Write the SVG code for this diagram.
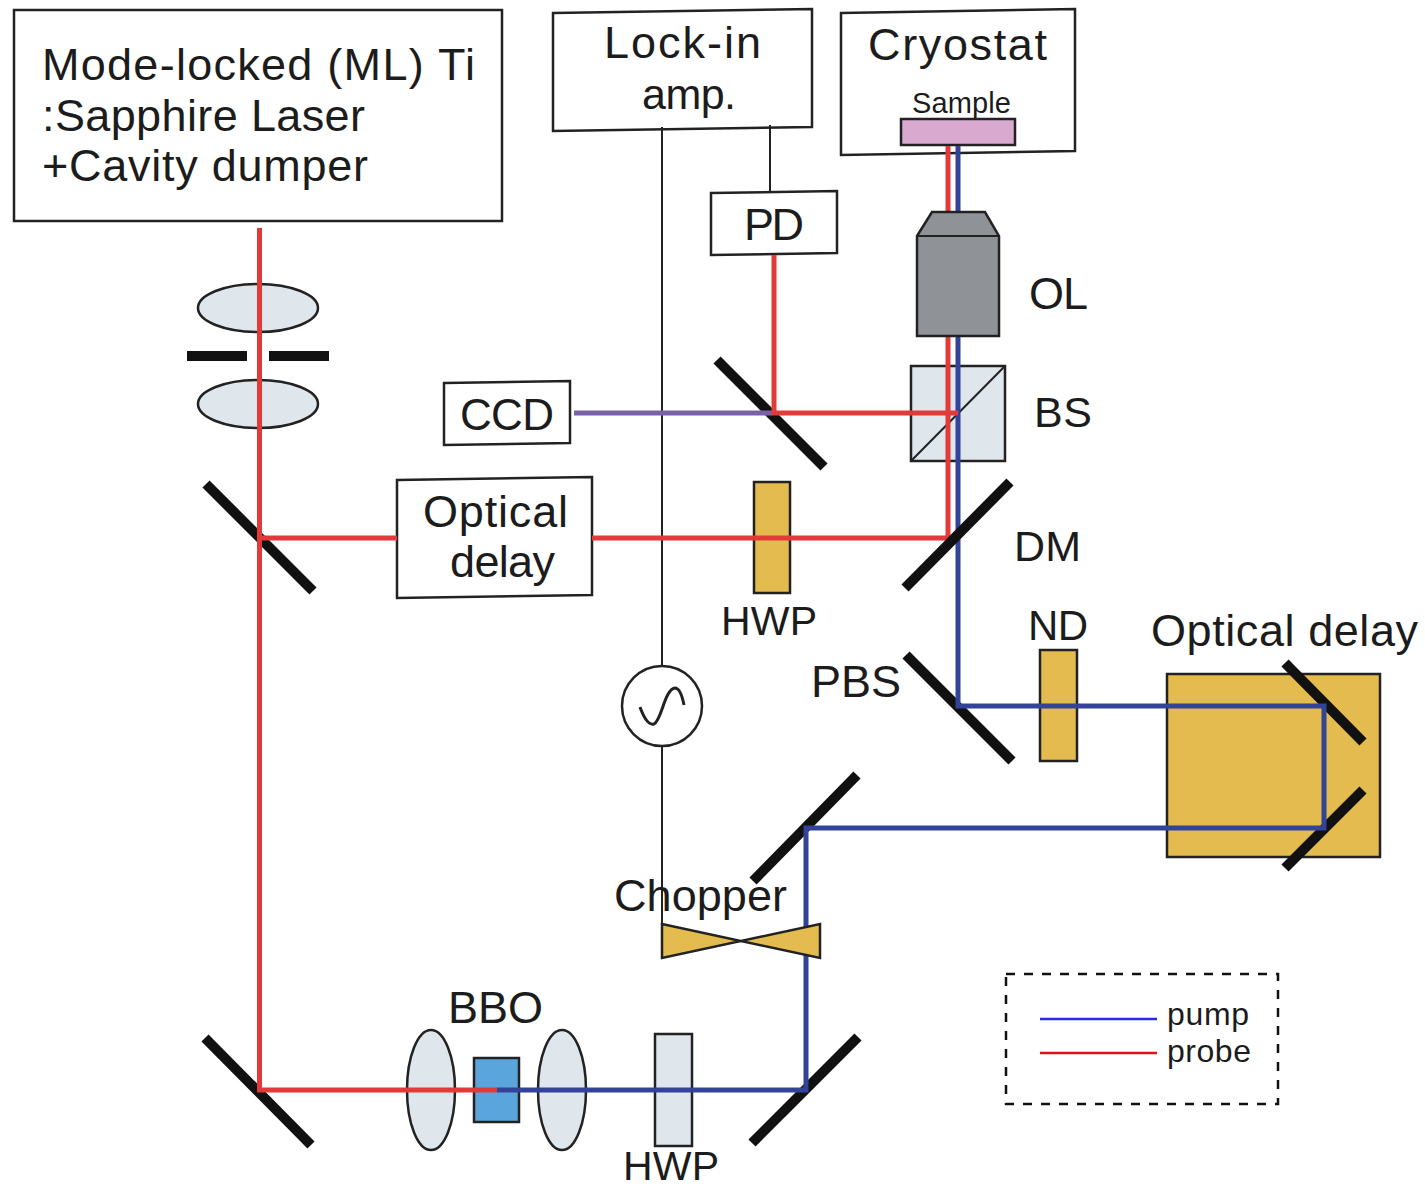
<svg xmlns="http://www.w3.org/2000/svg" width="1425" height="1189" viewBox="0 0 1425 1189">
<style>
text{font-family:"Liberation Sans",Arimo,Arial,sans-serif;fill:#1c1c1c;font-size:45px}
.box{fill:#fff;stroke:#222;stroke-width:2.5}
.lens{fill:#dfe6ec;stroke:#222;stroke-width:2.5}
.gold{fill:#e3bb4e;stroke:#222;stroke-width:2.5}
.mir{stroke:#111;stroke-width:10;fill:none}
.red{stroke:#e23a38;stroke-width:5;fill:none}
.blue{stroke:#33439a;stroke-width:5;fill:none}
.thin{stroke:#222;stroke-width:2;fill:none}
</style>
<rect width="1425" height="1189" fill="#fff"/>
<g id="laser"><polygon class="box" points="14,10 502,10 502,221 14,221"/>
<text x="42" y="80" textLength="433">Mode-locked (ML) Ti</text><text x="42" y="131" textLength="323">:Sapphire Laser</text><text x="42" y="181" textLength="326">+Cavity dumper</text></g>
<g id="lockin"><polygon class="box" points="553,13 812,9 812,127 553,131"/><text x="604" y="58" textLength="157">Lock-in</text><text x="642" y="109" textLength="94" style="font-size:43px">amp.</text></g>
<g id="cryostat"><polygon class="box" points="841,13 1075,9 1075,151 841,155"/><text x="868" y="60" textLength="179">Cryostat</text><text x="912" y="113" textLength="99" style="font-size:29px">Sample</text><rect x="901" y="119" width="114" height="26" fill="#d9a9cf" stroke="#222" stroke-width="2.5"/></g>
<g id="pd"><polygon class="box" points="711,193 837,191 837,253 711,255"/><text x="744" y="240" textLength="60">PD</text></g>
<g id="ccd"><polygon class="box" points="444,383 570,381 570,443 444,445"/><text x="460" y="430" textLength="94" style="font-size:44px">CCD</text></g>
<g id="delay1"><polygon class="box" points="397,480 592,477 592,595 397,598"/><text x="423" y="527" textLength="145">Optical</text><text x="450" y="577" textLength="105">delay</text></g>
<g id="lens1"><ellipse class="lens" cx="258" cy="308" rx="60" ry="24"/><ellipse class="lens" cx="258" cy="404" rx="60" ry="24"/><path d="M187 356H247M269 356H329" stroke="#111" stroke-width="10"/></g>
<g id="mirrors"><path class="mir" d="M206 484L313 591M717 360L824 467M906 655L1012 761M857 775L753 881M205 1038L311 1145M858 1037L752 1143"/></g>
<g id="bs"><rect x="911" y="366" width="94" height="95" class="lens"/><path class="thin" d="M911 461L1005 366"/><text x="1034" y="427" textLength="58" style="font-size:43px">BS</text></g>
<g id="hwp1"><rect x="754" y="482" width="36" height="111" class="gold"/><text x="721" y="635" textLength="96" style="font-size:41px">HWP</text></g>
<text id="dm" x="1014" y="561" textLength="67" style="font-size:43px">DM</text>
<text id="pbs" x="811" y="697" textLength="90">PBS</text>
<g id="nd"><rect x="1040" y="650" width="37" height="111" class="gold"/><text x="1028" y="640" textLength="60" style="font-size:42px">ND</text></g>
<g id="delay2"><rect x="1167" y="674" width="213" height="183" class="gold"/><path class="mir" d="M1285 663L1363 742M1363 790L1285 868"/><text x="1151" y="646" textLength="267">Optical delay</text></g>
<g id="osc"><circle cx="662" cy="706" r="40" fill="#fff" stroke="#222" stroke-width="2.5"/><path class="thin" style="stroke-width:3" d="M640 707C645 721 650 725 654 724C662 720 664 690 675 688C679 688 682 695 684 705"/></g>
<g id="bbo"><ellipse class="lens" cx="431" cy="1090" rx="24" ry="60"/><ellipse class="lens" cx="562" cy="1090" rx="24" ry="60"/><rect x="474" y="1058" width="45" height="64" fill="#5aa5dc" stroke="#222" stroke-width="2.5"/><text x="448" y="1023" textLength="95">BBO</text></g>
<g id="hwp2"><rect x="655" y="1034" width="37" height="112" class="lens"/><text x="623" y="1180" textLength="96" style="font-size:41px">HWP</text></g>
<g id="connectors">
<path class="thin" d="M662 127V666M662 746V925M770 125V191"/>
<path stroke="#7a62a8" stroke-width="5" fill="none" d="M574 413H772"/>
<path class="blue" d="M958 146V706H1324V828H806V1090H497"/>
<path class="red" d="M259.500 228V1090H497M259 538H397M592 538H948V146M774 255V413H958"/>
</g>
<g id="ol"><path d="M917 236L932 212H985L999 236V336H917Z" fill="#8f9398" stroke="#222" stroke-width="2.5"/><path d="M917 236H999" class="thin"/><text x="1029" y="309" textLength="59">OL</text></g>
<path id="dm-mirror" class="mir" d="M1010 482L905 588"/>
<g id="chopper"><path class="gold" d="M662 924L820 958V924L662 958Z"/><text x="614" y="911" textLength="173">Chopper</text></g>
<g id="legend"><rect x="1006" y="974" width="272" height="130" fill="none" stroke="#111" stroke-width="2.5" stroke-dasharray="9 9"/><path d="M1040 1019H1157" stroke="#2a2ae0" stroke-width="2.5"/><path d="M1040 1053H1157" stroke="#e01020" stroke-width="2.5"/><text x="1167" y="1025" textLength="82" style="font-size:32px">pump</text><text x="1167" y="1062" textLength="84" style="font-size:32px">probe</text></g>
</svg>
